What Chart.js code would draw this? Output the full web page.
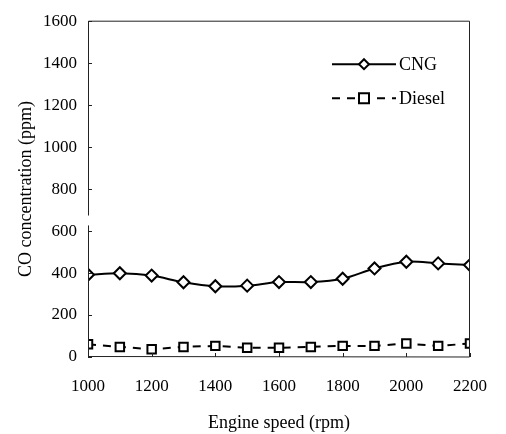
<!DOCTYPE html>
<html>
<head>
<meta charset="utf-8">
<script src="https://cdn.jsdelivr.net/npm/chart.js@4.4.1/dist/chart.umd.min.js"></script>
<style>
  html, body { margin: 0; padding: 0; background: #fff; }
  #wrap { width: 506px; height: 434px; }
</style>
</head>
<body>
<div id="wrap"><canvas id="coChart"></canvas></div>
<script>
// engine speed (rpm) and CO readings (ppm)
const speeds = [1000, 1100, 1200, 1300, 1400, 1500, 1600, 1700, 1800, 1900, 2000, 2100, 2200];
const cngCO = [392, 399, 388, 356, 337, 340, 357, 357, 373, 422, 454, 446, 438];
const dieselCO = [61, 48, 37, 48, 53, 44, 44, 48, 53, 53, 64, 53, 64];
const xTicks = [1000, 1200, 1400, 1600, 1800, 2000, 2200];
const yTicks = [0, 200, 400, 600, 800, 1000, 1200, 1400, 1600];

const serif = "'Liberation Serif', 'Times New Roman', serif";
Chart.defaults.font.family = serif;
Chart.defaults.color = "#000";

const toPoints = (vals) => vals.map((v, i) => ({ x: speeds[i], y: v }));

// box + inward ticks, with the little break in the left axis
const frame = {
    id: "frame",
    afterDraw(chart) {
        const { ctx, chartArea: a, scales } = chart;
        const x = scales.x, y = scales.y;
        ctx.save();
        ctx.strokeStyle = "#222";
        ctx.lineWidth = 1;
        ctx.beginPath();
        // left axis in two pieces
        ctx.moveTo(a.left + 0.5, a.bottom);
        ctx.lineTo(a.left + 0.5, y.getPixelForValue(627));
        ctx.moveTo(a.left + 0.5, y.getPixelForValue(674));
        ctx.lineTo(a.left + 0.5, a.top);
        ctx.lineTo(a.right - 0.5, a.top);
        ctx.lineTo(a.right - 0.5, a.bottom);
        ctx.lineTo(a.left, a.bottom - 0.5);
        yTicks.forEach(v => {
            const py = Math.round(y.getPixelForValue(v)) + 0.5;
            ctx.moveTo(a.left, py);
            ctx.lineTo(a.left + 4, py);
        });
        xTicks.forEach(v => {
            const px = Math.round(x.getPixelForValue(v)) + 0.5;
            ctx.moveTo(px, a.bottom);
            ctx.lineTo(px, a.bottom - 4);
        });
        ctx.stroke();
        ctx.restore();
    }
};

// legend: line sample with marker in the middle, label to the right
const legendBox = {
    id: "legendBox",
    afterDraw(chart) {
        const { ctx, chartArea: a } = chart;
        const x0 = a.right - 138, x1 = a.right - 74;
        const rows = [a.top + 43, a.top + 77];
        ctx.save();
        chart.data.datasets.forEach((ds, i) => {
            const yy = rows[i];
            ctx.strokeStyle = "#000";
            ctx.lineWidth = 2;
            ctx.setLineDash(ds.borderDash || []);
            ctx.beginPath();
            ctx.moveTo(x0, yy);
            ctx.lineTo(x1, yy);
            ctx.stroke();
            ctx.setLineDash([]);
            const cx = (x0 + x1) / 2;
            ctx.fillStyle = "#fff";
            ctx.lineWidth = 2;
            ctx.beginPath();
            if (ds.pointStyle === "rectRot") {
                ctx.moveTo(cx, yy - 5);
                ctx.lineTo(cx + 5, yy);
                ctx.lineTo(cx, yy + 5);
                ctx.lineTo(cx - 5, yy);
                ctx.closePath();
            } else {
                ctx.rect(cx - 5, yy - 5, 10, 10);
            }
            ctx.fill();
            ctx.stroke();
            ctx.fillStyle = "#000";
            ctx.font = "18px " + serif;
            ctx.textBaseline = "middle";
            ctx.fillText(ds.label, x1 + 3, yy + 1);
        });
        ctx.restore();
    }
};

new Chart(document.getElementById("coChart"), {
    type: "line",
    data: {
        datasets: [{
            label: "CNG",
            data: toPoints(cngCO),
            borderColor: "#000",
            borderWidth: 2,
            tension: 0.3,
            pointStyle: "rectRot",
            pointRadius: 6,
            pointBorderWidth: 2,
            pointBackgroundColor: "#fff",
            pointBorderColor: "#000"
        }, {
            label: "Diesel",
            data: toPoints(dieselCO),
            borderColor: "#000",
            borderWidth: 2,
            borderDash: [8, 7],
            tension: 0,
            pointStyle: "rect",
            pointRadius: 6,
            pointBorderWidth: 2,
            pointBackgroundColor: "#fff",
            pointBorderColor: "#000"
        }]
    },
    options: {
        responsive: true,
        maintainAspectRatio: false,
        animation: false,
        layout: { padding: { left: 0, right: 31, top: 15, bottom: 0 } },
        plugins: {
            legend: { display: false },
            tooltip: { enabled: false }
        },
        scales: {
            x: {
                type: "linear",
                min: 1000,
                max: 2200,
                afterBuildTicks: (s) => { s.ticks = xTicks.map(v => ({ value: v })); },
                afterFit: (s) => { s.height = 77; },
                grid: { display: false, drawTicks: false },
                border: { display: false },
                ticks: { padding: 19, font: { size: 17 }, color: "#000", callback: (v) => String(v) },
                title: {
                    display: true,
                    text: "Engine speed (rpm)",
                    font: { size: 18 },
                    color: "#000",
                    padding: { top: 0, bottom: 0 }
                }
            },
            y: {
                min: 0,
                max: 1600,
                afterBuildTicks: (s) => { s.ticks = yTicks.map(v => ({ value: v })); },
                afterFit: (s) => { s.width = 88; },
                grid: { display: false, drawTicks: false },
                border: { display: false },
                ticks: { padding: 11, font: { size: 17 }, color: "#000", callback: (v) => String(v) },
                title: {
                    display: true,
                    text: "CO concentration (ppm)",
                    font: { size: 18 },
                    color: "#000",
                    padding: { top: 15, bottom: 0 }
                }
            }
        }
    },
    plugins: [frame, legendBox]
});
</script>
</body>
</html>
